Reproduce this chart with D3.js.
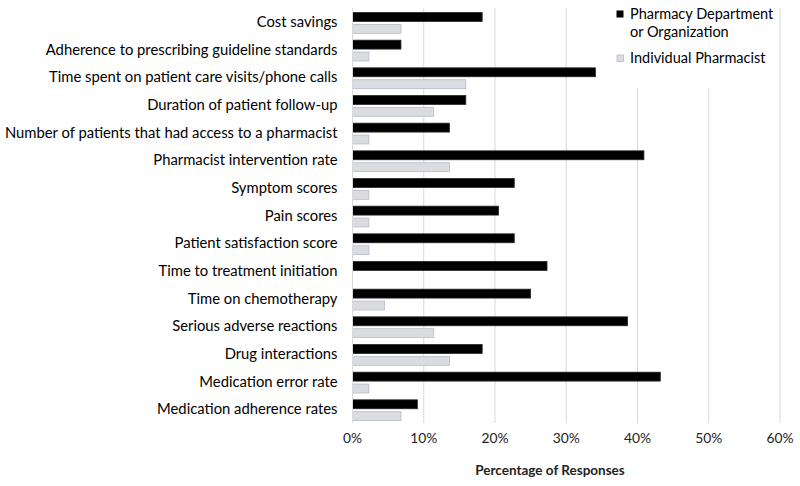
<!DOCTYPE html>
<html><head><meta charset="utf-8">
<script src="https://cdn.jsdelivr.net/npm/d3@7"></script>
<style>body{margin:0;background:#fff;} text{font-family:Lato,"Open Sans",sans-serif;}</style>
</head><body><svg id="c" width="800" height="486"></svg>
<script>
const categories = ["Cost savings","Adherence to prescribing guideline standards","Time spent on patient care visits/phone calls","Duration of patient follow-up","Number of patients that had access to a pharmacist","Pharmacist intervention rate","Symptom scores","Pain scores","Patient satisfaction score","Time to treatment initiation","Time on chemotherapy","Serious adverse reactions","Drug interactions","Medication error rate","Medication adherence rates"];
const seriesNames = ["Pharmacy Department or Organization","Individual Pharmacist"];
const deptValues = [18.2,6.8,34.1,15.9,13.6,40.9,22.7,20.5,22.7,27.3,25.0,38.6,18.2,43.2,9.1];
const pharmValues = [6.8,2.3,15.9,11.4,2.3,13.6,2.3,2.3,2.3,0,4.5,11.4,13.6,2.3,6.8];
const xTicks = [0,10,20,30,40,50,60];

const svg = d3.select("#c");
const x = d3.scaleLinear().domain([0,60]).range([352.5,780]);
const y = d3.scaleBand().domain(categories).range([8,423]);
const sub = d3.scaleBand().domain([0,1]).range([4.5,25.3]).paddingInner(0.25);

// gridlines
svg.append("g").selectAll("line").data(xTicks.slice(1)).join("line")
  .attr("x1",d=>x(d)).attr("x2",d=>x(d)).attr("y1",8).attr("y2",423)
  .attr("stroke","#d9d9d9").attr("stroke-width",1);

const rows = categories.map((c,i)=>({c, v:[deptValues[i],pharmValues[i]]}));
const fills = ["#000000","#dadce0"], strokes=["#262626","#b3bccb"];
const g = svg.append("g");
rows.forEach(r=>{
  r.v.forEach((v,s)=>{
    if(v<=0) return;
    g.append("rect").attr("x",x(0)).attr("y",y(r.c)+sub(s))
     .attr("width",x(v)-x(0)).attr("height",sub.bandwidth())
     .attr("fill",fills[s]).attr("stroke",strokes[s]).attr("stroke-width",0.8);
  });
});
svg.append("line").attr("x1",x(0)).attr("x2",x(0)).attr("y1",8).attr("y2",423).attr("stroke","#d9d9d9");

// category labels
svg.append("g").selectAll("text").data(categories).join("text")
  .attr("x",337.5).attr("y",d=>y(d)+y.bandwidth()/2+5)
  .attr("text-anchor","end").attr("font-size","14.8px").attr("fill","#000").text(d=>d);

// x tick labels
svg.append("g").selectAll("text").data(xTicks).join("text")
  .attr("x",d=>x(d)).attr("y",443).attr("text-anchor","middle")
  .attr("font-size","13.8px").attr("fill","#222").text(d=>d+"%");

svg.append("text").attr("x",550).attr("y",475).attr("text-anchor","middle")
  .attr("font-size","13.5px").attr("font-weight","bold").attr("fill","#222").text("Percentage of Responses");

// legend
const lg = svg.append("g");
lg.append("rect").attr("x",609).attr("y",0).attr("width",168).attr("height",88).attr("fill","#fff");
lg.append("rect").attr("x",616.5).attr("y",10.5).attr("width",7).attr("height",7).attr("fill",fills[0]);
lg.append("rect").attr("x",617).attr("y",55).attr("width",6.5).attr("height",6.5).attr("fill",fills[1]).attr("stroke",strokes[1]).attr("stroke-width",0.8);
lg.append("text").attr("x",630).attr("y",19).attr("font-size","14.5px").text("Pharmacy Department");
lg.append("text").attr("x",630).attr("y",37).attr("font-size","14.5px").text("or Organization");
lg.append("text").attr("x",630).attr("y",63).attr("font-size","14.5px").text(seriesNames[1]);
</script></body></html>
